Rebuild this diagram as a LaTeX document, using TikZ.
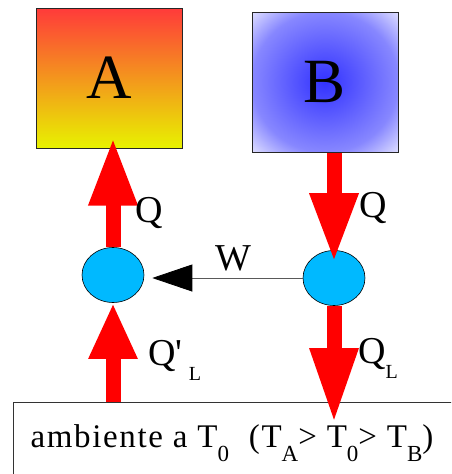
\documentclass[tikz,border=0pt]{standalone}
\usepackage{fontspec}
\setmainfont{Liberation Serif}
\usetikzlibrary{arrows.meta, calc, shapes.geometric}
\definecolor{hotred}{RGB}{255,58,58}
\definecolor{hotyellow}{RGB}{232,242,0}
\definecolor{coldblue}{RGB}{50,50,255}
\definecolor{coldmid}{RGB}{135,135,255}
\definecolor{coldpale}{RGB}{228,228,255}
\definecolor{engcyan}{RGB}{0,185,255}
\definecolor{heatred}{RGB}{255,0,0}
\pgfdeclareradialshading{coldglow}{\pgfpoint{0bp}{0bp}}
  {color(0bp)=(coldblue); color(25bp)=(coldmid); color(36bp)=(coldpale); color(50bp)=(coldpale)}
\newcommand{\lowsub}[2][20]{\raisebox{-0.42em}{\fontsize{#1}{#1}\selectfont #2}}

\begin{document}
\begin{tikzpicture}[
  x=1pt, y=-1pt,
  every node/.style={font=\fontsize{38}{40}\selectfont, inner sep=0pt},
  reservoir/.style={draw=black!85, line width=1pt,
                    minimum width=146pt, minimum height=140pt,
                    font=\fontsize{63}{63}\selectfont},
  machine/.style={ellipse, draw, line width=0.6pt, fill=engcyan,
                  minimum width=62pt, minimum height=55pt},
  heat/.style={heatred, line width=15pt,
               -{Triangle[width=45pt, length=#1]}},
  work/.style={black!65, line width=0.8pt,
               -{Triangle[width=27pt, length=40pt, black]}},
  envlabel/.style={font=\fontsize{33}{36}\selectfont\addfontfeatures{LetterSpace=5}}
]
\useasboundingbox (0,0) rectangle (451,474);
\clip (0,0) rectangle (451,474);

%% Reservoirs
\node[reservoir, top color=hotred, bottom color=hotyellow] (a) at (109,78) {A};
\node[reservoir, shading=coldglow] (b) at (325,82) {B};

%% Engines
\node[machine] (cl) at (113,275) {};
\node[machine] (cr) at (334,278) {};

%% Environment
\node[draw=black!80, line width=0.8pt, anchor=north west,
      minimum width=460pt, minimum height=90pt] (env) at (13,402) {};
\node[envlabel] (envtext) at (232,443)
  {ambiente a T\lowsub[23]{0}\ \ (T\lowsub[23]{A}> T\lowsub[23]{0}> T\lowsub[23]{B})};

%% Heat flows
\draw[heat=68pt] (cl.north) -- ($(cl.north |- a.south)+(0,-11)$);
\draw[heat=69pt] (b.south -| cr.north) -- ($(cr.north)+(0,12)$);
\draw[heat=56pt] (env.north -| cl.south) -- (cl.south);
\draw[heat=75pt] (cr.south) -- ($(cr.south |- env.north)+(0,21)$);

%% Work
\draw[work, shorten >=8pt] (cr.west) -- (cr.west -| cl.east);

%% Labels
\node[anchor=base west] (qa) at (135,222) {Q};
\node[anchor=base west] (qb) at (359,217) {Q};
\node[anchor=base] (w) at (233,270) {W};
\node[anchor=base west] (qla) at (148,365) {Q\textquotesingle\,\lowsub{L}};
\node[anchor=base west] (qlb) at (358,363) {Q\lowsub{L}};

\end{tikzpicture}
\end{document}
